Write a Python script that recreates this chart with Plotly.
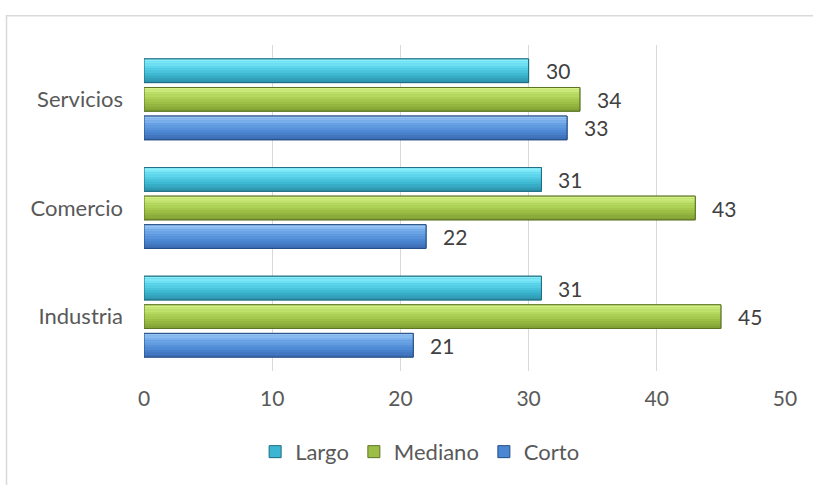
import plotly.graph_objects as go

# Chart data
categories = ["Industria", "Comercio", "Servicios"]
series_names = ["Largo", "Mediano", "Corto"]
largo = [31, 31, 30]
mediano = [45, 43, 34]
corto = [21, 22, 33]
x_ticks = [0, 10, 20, 30, 40, 50]

# Bevel-like shading: gradient stops (top -> bottom) and outline colour per series
styles = {
    "Largo": {"stops": ["#93F4FF", "#5FD8EE", "#3DB7D1", "#2B8FA8"], "line": "#1E6B80"},
    "Mediano": {"stops": ["#D9F68E", "#B6DA61", "#9CBE45", "#7D9C33"], "line": "#5B7425"},
    "Corto": {"stops": ["#A0CBF6", "#6CA6E7", "#4C87D3", "#3A6AB1"], "line": "#254D85"},
}

values = {"Largo": largo, "Mediano": mediano, "Corto": corto}
FONT = "Lato"
pitch = 0.263          # distance between bar centres inside a group
thick = 0.218          # bar thickness in category units
center_shift = {"Largo": pitch, "Mediano": 0.0, "Corto": -pitch}
ypos = list(range(len(categories)))


def hex_to_rgb(h):
    h = h.lstrip("#")
    return tuple(int(h[i:i + 2], 16) for i in (0, 2, 4))


def lerp_color(stops, t):
    n = len(stops) - 1
    k = min(int(t * n), n - 1)
    f = t * n - k
    a, b = hex_to_rgb(stops[k]), hex_to_rgb(stops[k + 1])
    c = [round(a[j] + (b[j] - a[j]) * f) for j in range(3)]
    return "rgb(%d,%d,%d)" % tuple(c)


fig = go.Figure()

# Base bars (these carry the legend entries)
for name in series_names:
    st = styles[name]
    fig.add_trace(go.Bar(
        name=name, orientation="h", y=ypos, x=values[name],
        offset=center_shift[name] - thick / 2, width=thick,
        marker=dict(color=st["stops"][2], line=dict(color=st["line"], width=1)),
        hoverinfo="x+name",
    ))

# Horizontal gradient strips layered over each bar
N = 10
for name in series_names:
    st = styles[name]
    vals = values[name]
    for s in range(N):
        t = (s + 0.5) / N
        top = center_shift[name] + thick / 2
        strip_h = thick / N
        fig.add_trace(go.Bar(
            orientation="h", y=ypos, x=vals, showlegend=False, hoverinfo="skip",
            offset=top - (s + 1) * strip_h, width=strip_h * 1.02,
            marker=dict(color=lerp_color(st["stops"], t), line=dict(width=0)),
        ))

# Outline on top
for name in series_names:
    st = styles[name]
    fig.add_trace(go.Bar(
        orientation="h", y=ypos, x=values[name], showlegend=False, hoverinfo="skip",
        offset=center_shift[name] - thick / 2, width=thick,
        marker=dict(color="rgba(0,0,0,0)", line=dict(color=st["line"], width=1)),
    ))

# Value labels
annotations = []
for name in series_names:
    for i, v in enumerate(values[name]):
        annotations.append(dict(
            x=v, y=ypos[i] + center_shift[name], xref="x", yref="y",
            text=str(v), showarrow=False, xanchor="left", yanchor="middle",
            xshift=15, font=dict(family=FONT, size=21, color="#404040"),
        ))

# Outer frame of the chart area
shapes = [dict(
    type="rect", xref="paper", yref="paper",
    x0=-0.2145, x1=1.12, y0=-0.4, y1=1.09,
    line=dict(color="#D9D9D9", width=1.5), fillcolor="rgba(0,0,0,0)", layer="below",
)]

fig.update_layout(
    width=813, height=485,
    margin=dict(l=144, r=28, t=45, b=114),
    paper_bgcolor="white", plot_bgcolor="white",
    barmode="overlay",
    font=dict(family=FONT, size=21, color="#595959"),
    xaxis=dict(
        range=[0, 50], tickvals=x_ticks, ticktext=[str(t) for t in x_ticks],
        showgrid=True, gridcolor="#D9D9D9", gridwidth=1, zeroline=False,
        showline=False, ticks="", ticklabelstandoff=13,
        tickfont=dict(family=FONT, size=21, color="#595959"),
    ),
    yaxis=dict(
        range=[-0.5, 2.5], tickvals=ypos, ticktext=categories,
        showgrid=False, zeroline=False, showline=False, ticks="",
        ticklabelstandoff=20,
        tickfont=dict(family=FONT, size=22, color="#595959"),
    ),
    legend=dict(
        orientation="h", x=0.43, xanchor="center", y=-0.248, yanchor="middle",
        font=dict(family=FONT, size=22, color="#595959"),
        itemwidth=30, traceorder="normal",
    ),
    annotations=annotations,
    shapes=shapes,
)

fig.write_html("out.html")
